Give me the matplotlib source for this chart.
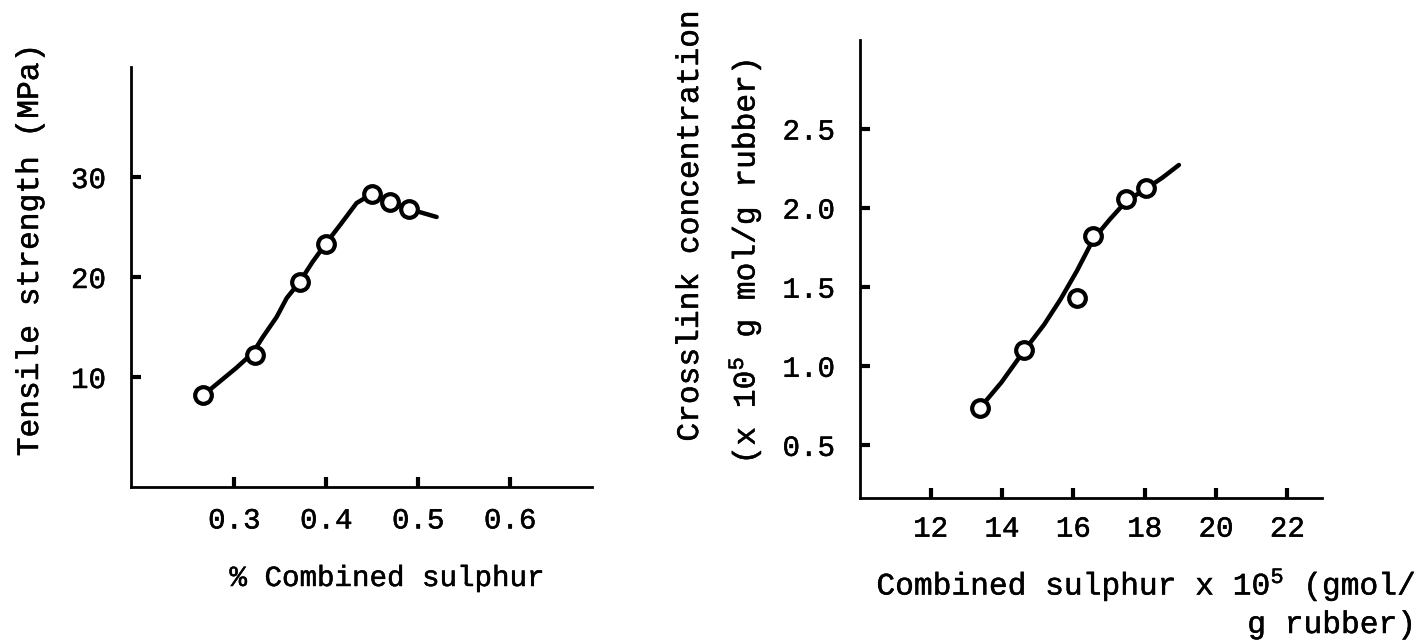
import matplotlib
matplotlib.use("Agg")
import matplotlib.pyplot as plt
import matplotlib.patheffects as pe

plt.rcParams['font.family'] = ['Liberation Mono', 'DejaVu Sans Mono']
plt.rcParams['mathtext.fontset'] = 'custom'
plt.rcParams['mathtext.rm'] = 'Liberation Mono'
plt.rcParams['mathtext.it'] = 'Liberation Mono'

# ---- Left panel data ----
left_x = [0.2655, 0.322, 0.371, 0.400, 0.450, 0.469, 0.490]
left_y = [8.2, 12.2, 19.5, 23.3, 28.3, 27.5, 26.8]
left_curve_x = [0.266, 0.273, 0.302, 0.320, 0.331, 0.346, 0.357, 0.371, 0.385,
                0.400, 0.415, 0.433, 0.444, 0.450, 0.469, 0.490, 0.520]
left_curve_y = [8.2, 8.7, 10.9, 12.4, 14.0, 16.0, 17.9, 19.5, 21.5,
                23.4, 25.2, 27.4, 28.0, 28.3, 27.5, 26.8, 26.0]
left_xticks = [0.3, 0.4, 0.5, 0.6]
left_xticklabels = ['0.3', '0.4', '0.5', '0.6']
left_yticks = [10, 20, 30]
left_yticklabels = ['10', '20', '30']

# ---- Right panel data ----
right_x = [13.38, 14.63, 16.10, 16.56, 17.48, 18.04]
right_y = [0.733, 1.098, 1.431, 1.818, 2.054, 2.123]
right_curve_x = [13.38, 13.98, 14.63, 15.18, 15.64, 16.10, 16.56, 17.02, 17.48, 18.04, 18.50, 18.96]
right_curve_y = [0.733, 0.894, 1.098, 1.26, 1.42, 1.60, 1.80, 1.925, 2.04, 2.12, 2.19, 2.27]
right_xticks = [12, 14, 16, 18, 20, 22]
right_xticklabels = ['12', '14', '16', '18', '20', '22']
right_yticks = [0.5, 1.0, 1.5, 2.0, 2.5]
right_yticklabels = ['0.5', '1.0', '1.5', '2.0', '2.5']

W, H = 1421, 644
fig = plt.figure(figsize=(W / 100, H / 100), dpi=100)
fig.patch.set_facecolor('white')

THICK = [pe.withStroke(linewidth=0.35, foreground='black')]

def px_axes(x0, x1, ytop, ybot):
    return fig.add_axes([x0 / W, 1 - ybot / H, (x1 - x0) / W, (ybot - ytop) / H])

FS = 21
FL = 22.5

def style(ax, xpad, ypad):
    for s in ['top', 'right']:
        ax.spines[s].set_visible(False)
    for s in ['left', 'bottom']:
        ax.spines[s].set_linewidth(2.0)
        ax.spines[s].set_color('black')
    ax.tick_params(direction='in', length=7, width=3, colors='black', labelsize=FS)
    ax.tick_params(axis='x', pad=xpad)
    ax.tick_params(axis='y', pad=ypad)
    ax.set_facecolor('white')
    for lab in ax.get_xticklabels() + ax.get_yticklabels():
        lab.set_path_effects(THICK)

def ftext(x, y, s, **kw):
    t = fig.text(x / W, 1 - y / H, s, **kw)
    t.set_path_effects(THICK)
    return t

# Left
ax1 = px_axes(131, 592, 67, 487)
ax1.plot(left_curve_x, left_curve_y, color='black', lw=3.2, solid_capstyle='round', zorder=2)
ax1.plot(left_x, left_y, linestyle='none', marker='o', ms=12, mfc='white', mec='black', mew=3.0, zorder=3)
ax1.set_xlim(0.1876, 0.689)
ax1.set_ylim(-1.0, 41)
ax1.set_xticks(left_xticks)
ax1.set_xticklabels(left_xticklabels)
ax1.set_yticks(left_yticks)
ax1.set_yticklabels(left_yticklabels)
style(ax1, 14, 18)

ftext(30, 250, 'Tensile strength (MPa)', rotation=90, ha='center', va='center', fontsize=FL)
ftext(387, 578, '% Combined sulphur', ha='center', va='center', fontsize=FS)

# Right
ax2 = px_axes(860, 1322, 40, 498)
ax2.plot(right_curve_x, right_curve_y, color='black', lw=3.2, solid_capstyle='round', zorder=2)
ax2.plot(right_x, right_y, linestyle='none', marker='o', ms=12, mfc='white', mec='black', mew=3.0, zorder=3)
ax2.set_xlim(10.02, 22.97)
ax2.set_ylim(0.164, 3.06)
ax2.set_xticks(right_xticks)
ax2.set_xticklabels(right_xticklabels)
ax2.set_yticks(right_yticks)
ax2.set_yticklabels(right_yticklabels)
style(ax2, 12, 18)

ftext(690, 226, 'Crosslink concentration', rotation=90, ha='center', va='center', fontsize=FL)
ftext(745, 262, r'(x 10$^5$ g mol/g rubber)', rotation=90, ha='center', va='center', fontsize=FL)
ftext(1416, 585, r'Combined sulphur x 10$^5$ (gmol/', ha='right', va='center', fontsize=22.5)
ftext(1416, 625, 'g rubber)', ha='right', va='center', fontsize=22.5)

fig.savefig('out.png', dpi=100, facecolor='white')
